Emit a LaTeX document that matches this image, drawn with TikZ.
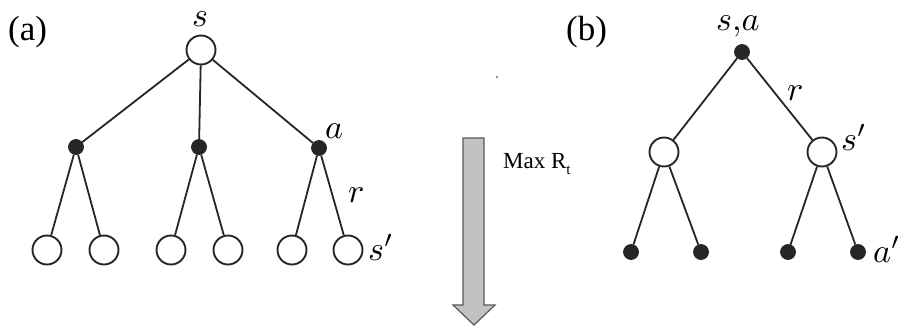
\documentclass[tikz,border=0pt]{standalone}
\usepackage{graphicx}
\usepackage{fontspec}
\setmainfont{Liberation Serif}
\newcommand{\treelbl}[1]{\scalebox{3.4}{$#1$}}
\begin{document}
\begin{tikzpicture}[x=1pt,y=-1pt,
  open/.style={circle,draw=black!85,line width=1.9pt,fill=white,minimum size=29pt,inner sep=0pt},
  dot/.style={circle,fill=black!85,draw=black!85,line width=0.8pt,minimum size=15pt,inner sep=0pt},
  edge/.style={draw=black!85,line width=1.8pt},
  lbl/.style={anchor=base west,inner sep=0pt},
  tag/.style={font=\fontsize{35}{35}\selectfont,anchor=base west,inner sep=0pt},
  bigarrow/.style={fill=black!24,draw=black!65,line width=1.2pt,line join=miter}]
\useasboundingbox[fill=white] (0,0) rectangle (899,327);
% panel (a)
\node[tag] (ta) at (8,40) {(a)};
\node[open] (ra) at (201,50) {};
\node[dot] (a1) at (76,147) {};
\node[dot] (a2) at (199,147) {};
\node[dot] (a3) at (319,148) {};
\node[open] (l1) at (47,250) {};
\node[open] (l2) at (104,250) {};
\node[open] (l3) at (171,250) {};
\node[open] (l4) at (228,250) {};
\node[open] (l5) at (292,250) {};
\node[open] (l6) at (348,250) {};
\draw[edge] (ra) -- (a1);
\draw[edge] (ra) -- (a2);
\draw[edge] (ra) -- (a3);
\draw[edge] (a1) -- (l1);
\draw[edge] (a1) -- (l2);
\draw[edge] (a2) -- (l3);
\draw[edge] (a2) -- (l4);
\draw[edge] (a3) -- (l5);
\draw[edge] (a3) -- (l6);
\node[lbl] (ls) at (192,26) {\treelbl{s}};
\node[lbl] (la) at (325,138) {\treelbl{a}};
\node[lbl] (lr) at (348,202) {\treelbl{r}};
\node[lbl] (lsp) at (368,260) {\treelbl{s'}};
% arrow
\draw[bigarrow] (463,138) -- (484,138) -- (484,305) -- (495,305) -- (474,325) -- (453,305) -- (463,305) -- cycle;
\node[font=\fontsize{23}{23}\selectfont,anchor=base west,inner sep=0pt] (mr) at (503,168) {Max R\raisebox{-0.28em}{\fontsize{15}{15}\selectfont t}};
\fill[black!45] (497,77) circle (1.4);
% panel (b)
\node[tag] (tb) at (566,40) {(b)};
\node[dot] (rb) at (742,52) {};
\node[open] (m1) at (664,152) {};
\node[open] (m2) at (822,152) {};
\node[dot] (b1) at (631,252) {};
\node[dot] (b2) at (701,252) {};
\node[dot] (b3) at (788,252) {};
\node[dot] (b4) at (858,252) {};
\draw[edge] (rb) -- (m1);
\draw[edge] (rb) -- (m2);
\draw[edge] (m1) -- (b1);
\draw[edge] (m1) -- (b2);
\draw[edge] (m2) -- (b3);
\draw[edge] (m2) -- (b4);
\node[lbl] (lsa) at (716,30) {\treelbl{s{,}a}};
\node[lbl] (lr2) at (787,100) {\treelbl{r}};
\node[lbl] (lsp2) at (841,150) {\treelbl{s'}};
\node[lbl] (lap) at (873,262) {\treelbl{a'}};
\end{tikzpicture}
\end{document}
